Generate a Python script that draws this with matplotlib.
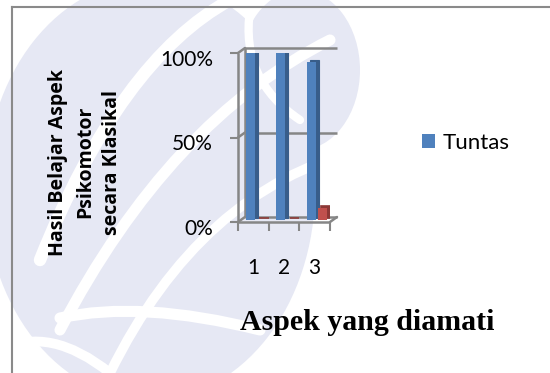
import matplotlib
matplotlib.use("Agg")
import matplotlib.pyplot as plt
from matplotlib.transforms import ScaledTranslation
from matplotlib.patches import ConnectionPatch, Ellipse, PathPatch
from matplotlib.path import Path
from matplotlib.lines import Line2D
import numpy as np

# ---- data ----
categories = ["1", "2", "3"]
tuntas = [100, 100, 93]
tidak_tuntas = [0, 0, 7]
y_ticks = [0, 50, 100]
y_tick_labels = ["0%", "50%", "100%"]
legend_label = "Tuntas"
y_label = "Hasil Belajar Aspek\nPsikomotor\nsecara Klasikal"
x_label = "Aspek yang diamati"

W, H, DPI = 550, 373, 100
fig = plt.figure(figsize=(W / DPI, H / DPI), dpi=DPI)
fig.patch.set_facecolor("white")

# ---- faint background watermark (decoration) ----
bg = fig.add_axes([0, 0, 1, 1], zorder=-5)
bg.set_xlim(0, W)
bg.set_ylim(H, 0)
bg.axis("off")
LAV = "#E6E8F4"
bg.add_patch(Ellipse((150, 190), 330, 420, color=LAV, lw=0))
bg.add_patch(Ellipse((300, 70), 120, 160, color=LAV, lw=0))


def band(p0, c, p1, lw):
    pth = Path([p0, c, p1], [Path.MOVETO, Path.CURVE3, Path.CURVE3])
    bg.add_patch(PathPatch(pth, fc="none", ec="white", lw=lw, capstyle="round"))


band((230, 0), (120, 60), (40, 260), 9)
band((330, 40), (170, 120), (60, 330), 8)
band((360, 150), (200, 190), (110, 373), 7)
band((60, 318), (140, 300), (260, 330), 8)
band((0, 350), (50, 325), (110, 373), 7)
band((300, 120), (240, 80), (250, 10), 6)

GRAY = "#868686"
BLUE, BLUE_D = "#4F81BD", "#385D8A"
RED, RED_D = "#C0504D", "#8C3836"

ax = fig.add_axes([238 / W, (H - 222) / H, 92 / W, 169 / H])
ax.set_facecolor("none")
for s in ax.spines.values():
    s.set_visible(False)


def off(dx, dy):
    return ax.transData + ScaledTranslation(dx / DPI, dy / DPI, fig.dpi_scale_trans)


back = off(7, 5)
mid = off(3, 2.5)
mid_side = off(6, 4.5)

x = np.arange(len(categories))
bw = 0.30
# blue series
ax.bar(x - 0.2, tuntas, bw, transform=mid_side, color=BLUE_D, edgecolor=BLUE_D, lw=0.8, zorder=3)
ax.bar(x - 0.2, tuntas, bw, transform=mid, color=BLUE, lw=0, zorder=4, label=legend_label)
# red series
ax.bar(x + 0.15, tidak_tuntas, bw, transform=mid_side, color=RED_D, edgecolor=RED_D, lw=1.2, zorder=5)
ax.bar(x + 0.15, tidak_tuntas, bw, transform=mid, color=RED, lw=0, zorder=6)

ax.set_xlim(-0.5, len(categories) - 0.5)
ax.set_ylim(0, 100)

lk = dict(color=GRAY, lw=1.8, clip_on=False, solid_capstyle="butt")
x0, x1 = -0.5, len(categories) - 0.5
for v in y_ticks:
    ax.plot([x0, x1], [v, v], transform=back, zorder=1, **lk)
ax.plot([x0, x0], [0, 100], transform=back, zorder=1, **lk)
ax.plot([x0, x0], [0, 100], zorder=2, **lk)
ax.plot([x0, x1], [0, 0], zorder=2, **lk)
for v in y_ticks:
    cp = ConnectionPatch((x0, v), (x0, v), coordsA=ax.transData, coordsB=back,
                         arrowstyle="-", color=GRAY, lw=1.8, zorder=2)
    ax.add_artist(cp)
cp = ConnectionPatch((x1, 0), (x1, 0), coordsA=ax.transData, coordsB=back,
                     arrowstyle="-", color=GRAY, lw=1.8, zorder=2)
ax.add_artist(cp)

FONT = "Lato"
ax.set_yticks(y_ticks)
ax.set_yticklabels(y_tick_labels, fontsize=15, family=FONT)
ax.tick_params(axis="y", length=8 * 0.72, width=1.5, color=GRAY, pad=17 * 0.72)
for lab in ax.get_yticklabels():
    lab.set_transform(lab.get_transform() + ScaledTranslation(0, -5 / DPI, fig.dpi_scale_trans))

ax.set_xticks(x)
ax.set_xticklabels(categories, fontsize=15, family=FONT)
ax.set_xticks(np.arange(len(categories) + 1) - 0.5, minor=True)
ax.tick_params(axis="x", which="major", length=0, pad=36 * 0.72)
ax.tick_params(axis="x", which="minor", length=9 * 0.72, width=1.5, color=GRAY)

h, l = ax.get_legend_handles_labels()
fig.legend(h, l, loc="center left", bbox_to_anchor=(422 / W, 1 - 143 / H),
           frameon=False, borderpad=0, borderaxespad=0, handlelength=0.6,
           handleheight=0.6, handletextpad=0.35, prop={"family": FONT, "size": 16})

fig.text(85 / W, 1 - 162 / H, y_label, rotation=90, ha="center", va="center",
         multialignment="center", fontsize=14, fontweight="bold", family="Open Sans",
         linespacing=1.45)
fig.text(367.5 / W, 1 - 330 / H, x_label, ha="center", va="baseline",
         fontsize=21.5, fontweight="bold", family="Liberation Serif")

fig.add_artist(Line2D([12 / W, 12 / W], [0, 1 - 7 / H], color="#8A8A8A", lw=1.5))
fig.add_artist(Line2D([12 / W, 1], [1 - 7 / H, 1 - 7 / H], color="#8A8A8A", lw=1.5))

fig.savefig("out.png", dpi=DPI)
